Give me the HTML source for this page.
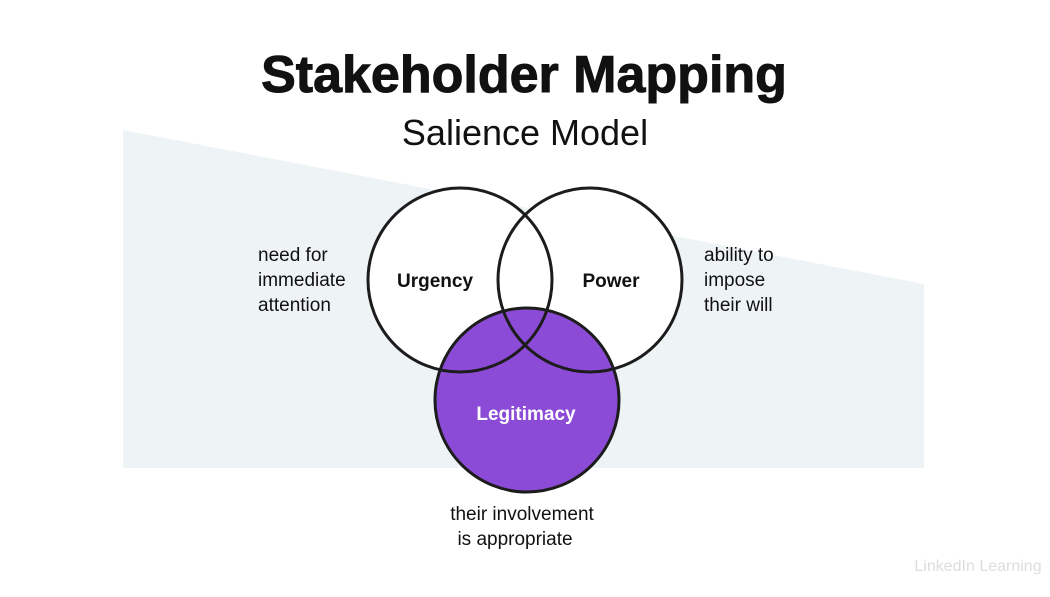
<!DOCTYPE html>
<html><head><meta charset="utf-8"><style>
html,body{margin:0;padding:0;background:#fff;}
body{width:1050px;height:597px;overflow:hidden;position:relative;font-family:"Liberation Sans",sans-serif;}
</style></head><body>
<svg width="1050" height="597" style="position:absolute;left:0;top:0">
<polygon points="123,130 924,284 924,468 123,468" fill="#eef4f6"/>
<circle cx="460" cy="280" r="92" fill="#fff"/>
<circle cx="590" cy="280" r="92" fill="#fff"/>
<circle cx="527" cy="400" r="92" fill="#8c4bd6"/>
<circle cx="460" cy="280" r="92" fill="none" stroke="#1c1c1c" stroke-width="3"/>
<circle cx="590" cy="280" r="92" fill="none" stroke="#1c1c1c" stroke-width="3"/>
<circle cx="527" cy="400" r="92" fill="none" stroke="#1c1c1c" stroke-width="3"/>
<g font-family="Liberation Sans, sans-serif" fill="#111">
<text x="524" y="92" font-size="52" font-weight="bold" text-anchor="middle" stroke="#111" stroke-width="1">Stakeholder Mapping</text>
<text x="525" y="145" font-size="36" text-anchor="middle">Salience Model</text>
<text x="435" y="287" font-size="19" font-weight="bold" text-anchor="middle">Urgency</text>
<text x="611" y="287" font-size="19" font-weight="bold" text-anchor="middle">Power</text>
<text x="526" y="420" font-size="19" font-weight="bold" text-anchor="middle" fill="#fff">Legitimacy</text>
<text font-size="19"><tspan x="258" y="261">need for</tspan><tspan x="258" y="286">immediate</tspan><tspan x="258" y="311">attention</tspan></text>
<text font-size="19"><tspan x="704" y="261">ability to</tspan><tspan x="704" y="286">impose</tspan><tspan x="704" y="311">their will</tspan></text>
<text font-size="19" text-anchor="middle"><tspan x="522" y="520">their involvement</tspan><tspan x="515" y="545">is appropriate</tspan></text>
<text x="978" y="571" font-size="16" fill="#ddd" text-anchor="middle">LinkedIn Learning</text>
</g>
</svg>
</body></html>
